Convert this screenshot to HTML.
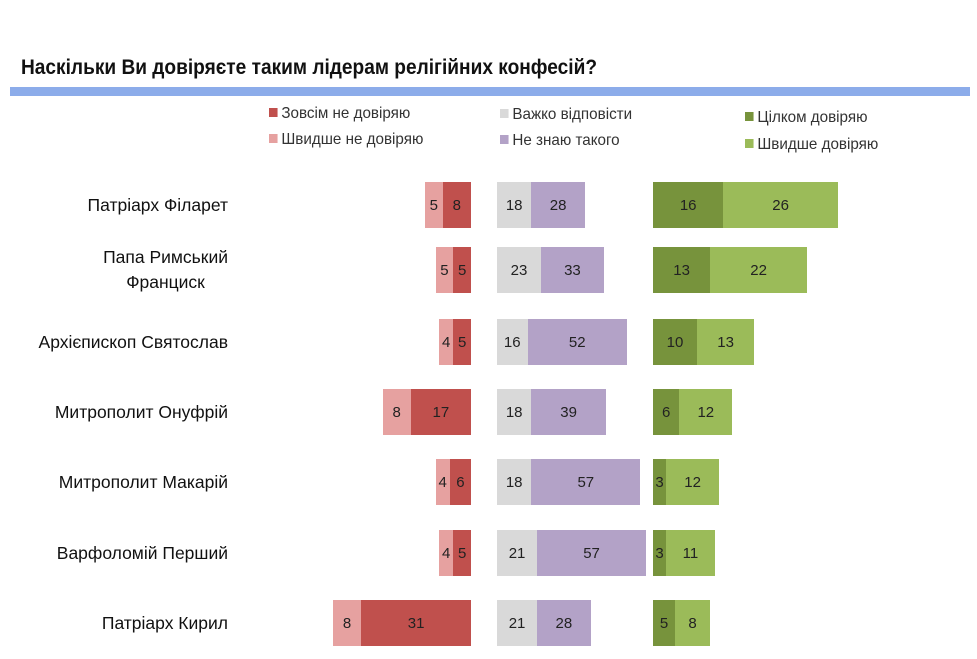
<!DOCTYPE html>
<html><head><meta charset="utf-8"><style>
body{margin:0;width:977px;height:659px;background:#fff;position:relative;overflow:hidden;font-family:"Liberation Sans",sans-serif;}
.a{position:absolute}
.t{font-size:21px;font-weight:bold;left:21px;top:56px;color:#111;transform:scaleX(0.91);transform-origin:left;white-space:nowrap}
.bar{left:10px;top:87px;width:960px;height:9px;background:#8cacea}
.lg{font-size:16px;color:#333;white-space:nowrap;transform:scaleX(0.95);transform-origin:left}
.lg i{display:inline-block;width:9px;height:9px;margin-right:4px;vertical-align:1px}
.lab{font-size:17.5px;color:#111;text-align:center;right:749px;line-height:25px;white-space:nowrap}
.b{position:absolute;height:46px;display:flex;align-items:center;justify-content:center;font-size:15px;color:#222;}
</style></head><body>
<div class="a t">Наскільки Ви довіряєте таким лідерам релігійних конфесій?</div>
<div class="a bar"></div>
<div class="a lg" style="left:269px;top:105px"><i style="background:#c0504d"></i>Зовсім не довіряю</div>
<div class="a lg" style="left:269px;top:131px"><i style="background:#e6a1a0"></i>Швидше не довіряю</div>
<div class="a lg" style="left:500px;top:106px"><i style="background:#d9d9d9"></i>Важко відповісти</div>
<div class="a lg" style="left:500px;top:132px"><i style="background:#b3a2c7"></i>Не знаю такого</div>
<div class="a lg" style="left:745px;top:109px"><i style="background:#77933c"></i>Цілком довіряю</div>
<div class="a lg" style="left:745px;top:136px"><i style="background:#9bbb59"></i>Швидше довіряю</div>
<div id="c"></div>
<script>
var d=[["Патріарх Філарет",5,8,18,28,16,26,205],["Папа Римський<br>Франциск",5,5,23,33,13,22,270],["Архієпископ Святослав",4,5,16,52,10,13,342],["Митрополит Онуфрій",8,17,18,39,6,12,412],["Митрополит Макарій",4,6,18,57,3,12,482],["Варфоломій Перший",4,5,21,57,3,11,553],["Патріарх Кирил",8,31,21,28,5,8,623]];
var h="";
function b(x,w,y,c,v){return '<div class="b" style="left:'+x+'px;top:'+(y-23)+'px;width:'+w+'px;background:'+c+'">'+v+'</div>';}
d.forEach(function(r){var y=r[7],k=3.54,m=1.91,g=4.4;
h+='<div class="a lab" style="top:'+(y-(r[0].indexOf("<br>")>0?25:12.5))+'px">'+r[0]+'</div>';
var w2=r[2]*k,w1=r[1]*k;
h+=b(471-w2,w2,y,"#c0504d",r[2])+b(471-w2-w1,w1,y,"#e6a1a0",r[1]);
var a=r[3]*m,c=r[4]*m;
h+=b(497,a,y,"#d9d9d9",r[3])+b(497+a,c,y,"#b3a2c7",r[4]);
var e=r[5]*g,f=r[6]*g;
h+=b(653,e,y,"#77933c",r[5])+b(653+e,f,y,"#9bbb59",r[6]);});
document.getElementById("c").innerHTML=h;
</script>
</body></html>
